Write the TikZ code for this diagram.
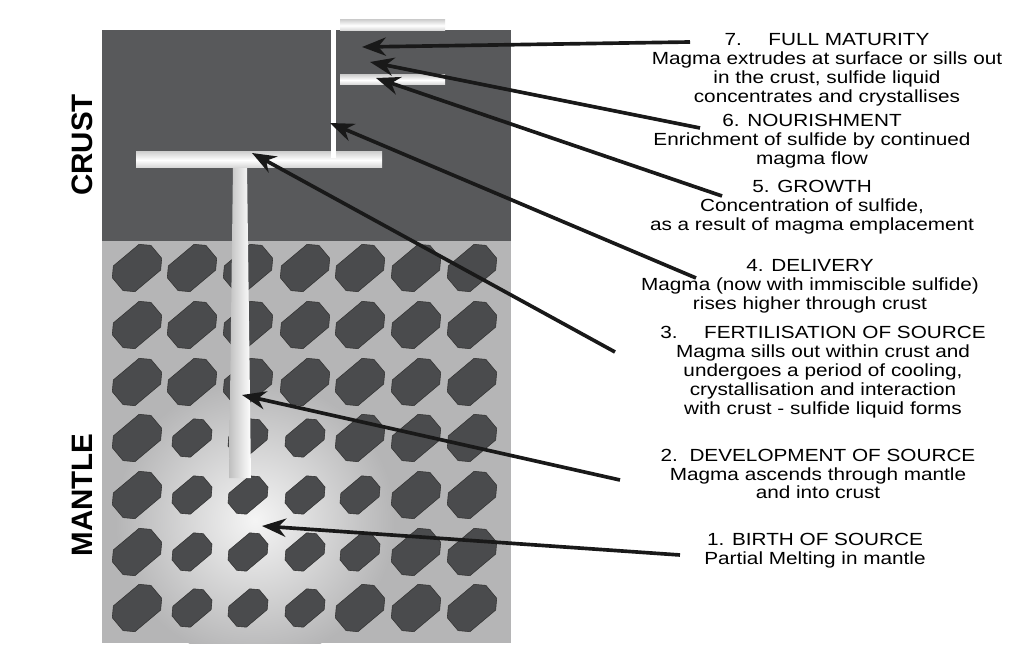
\documentclass[tikz,border=0pt]{standalone}
\usepackage{fontspec}
\setmainfont{Liberation Sans}
\usetikzlibrary{positioning, arrows.meta}
\definecolor{crustgrey}{HTML}{58595B}
\definecolor{mantlegrey}{HTML}{B5B5B6}
\definecolor{blobgrey}{HTML}{4A4B4D}
\tikzset{
	label/.style={align=center, font=\fontsize{12.5}{13.4}\selectfont, inner sep=0pt, xscale=1.18, transform shape},
	side/.style={font=\bfseries\fontsize{21}{21}\selectfont, rotate=90},
	pointer/.style={-{Stealth[length=17pt,width=13pt]}, line width=2.6pt, black!90},
	sill/.style={top color=gray!35, bottom color=gray!35, middle color=white}
}
\newcommand{\blob}[3]{%
	\fill[blobgrey, draw=black!80, thin, shift={(#1,#2)}, rotate=40, scale=#3]
	(-24,-8) -- (-16,-16) -- (16,-16) -- (24,-8) -- (24,8) -- (16,16) -- (-16,16) -- (-24,8) -- cycle;}
\begin{document}
\begin{tikzpicture}[x=0.025cm, y=-0.025cm]
	\useasboundingbox (0,0) rectangle (1023,648);
	
	% crust and mantle
	\fill[crustgrey] (102,30) rectangle (511,241);
	\fill[mantlegrey] (102,241) rectangle (511,643);
	\begin{scope}
		\clip (102,241) rectangle (511,643);
		\shade[inner color=gray!8, outer color=mantlegrey] (255,520) circle (140);
	\end{scope}
	\foreach \bx in {137,192,248,305,360,416,472}
	\foreach \by in {268,325,382,438,495,552,608}{
		\pgfmathsetmacro{\bd}{veclen(\bx-255,\by-520)}
		\pgfmathsetmacro{\bs}{\bd<110 ? 0.85 : 1.05}
		\blob{\bx}{\by}{\bs}
	}
	
	% magma conduits
	\shade[left color=gray!50, right color=white] (233,165) -- (247,165) -- (251,478) -- (229,478) -- cycle;
	\shade[sill] (136,152) rectangle (382,168);
	\fill[white] (331,20) rectangle (336,158);
	\shade[sill] (340,20) rectangle (445,31);
	\shade[sill] (340,75) rectangle (445,85);
	
	\node[side, text=black] (crust) at (82,145) {CRUST};
	\node[side, text=black] (mantle) at (82,495) {MANTLE};
	
	% stage labels
	\node[label] (s7) at (827,70) {7.\quad\ FULL MATURITY\\Magma extrudes at surface or sills out\\in the crust, sulfide liquid\\concentrates and crystallises};
	\node[label] (s6) at (812,141) {6. NOURISHMENT\\Enrichment of sulfide by continued\\magma flow};
	\node[label] (s5) at (812,207) {5. GROWTH\\Concentration of sulfide,\\as a result of magma emplacement};
	\node[label] (s4) at (810,286) {4. DELIVERY\\Magma (now with immiscible sulfide)\\rises higher through crust};
	\node[label] (s3) at (823,372) {3.\quad\ FERTILISATION OF SOURCE\\Magma sills out within crust and\\undergoes a period of cooling,\\crystallisation and interaction\\with crust - sulfide liquid forms};
	\node[label] (s2) at (818,474) {2.\ \ DEVELOPMENT OF SOURCE\\Magma ascends through mantle\\and into crust};
	\node[label] (s1) at (815,551) {1. BIRTH OF SOURCE\\Partial Melting in mantle};
	
	\coordinate (a7) at (690,42);  \coordinate (t7) at (362,47);
	\coordinate (a6) at (700,128); \coordinate (t6) at (370,62);
	\coordinate (a5) at (722,196); \coordinate (t5) at (376,78);
	\coordinate (a4) at (696,278); \coordinate (t4) at (330,123);
	\coordinate (a3) at (615,352); \coordinate (t3) at (252,153);
	\coordinate (a2) at (620,480); \coordinate (t2) at (242,395);
	\coordinate (a1) at (680,555); \coordinate (t1) at (262,526);
	\foreach \i in {1,...,7}
		\draw[pointer] (a\i) -- (t\i);
	
\end{tikzpicture}
\end{document}
